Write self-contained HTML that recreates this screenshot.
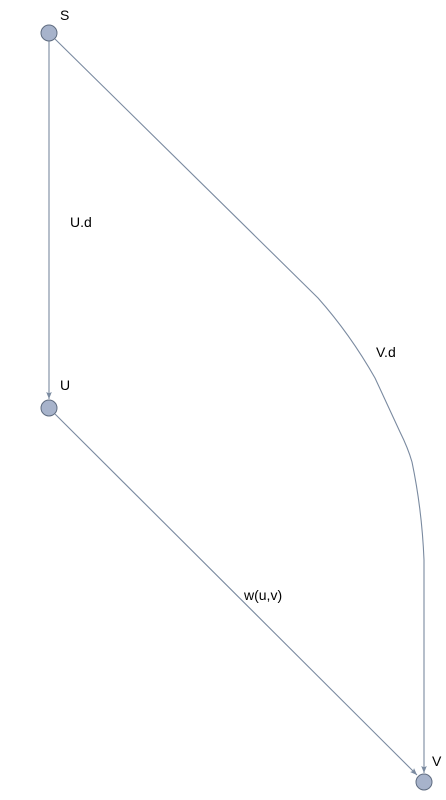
<!DOCTYPE html>
<html><head><meta charset="utf-8"><style>
html,body{margin:0;padding:0;background:#fff;width:446px;height:800px;overflow:hidden}
text{font-family:"Liberation Sans",Arial,sans-serif;font-size:14px;fill:#000}
</style></head><body>
<svg width="446" height="800" viewBox="0 0 446 800">
<defs>
<marker id="arr" viewBox="0 0 10 10" refX="10" refY="5" markerWidth="7" markerHeight="9" orient="auto" markerUnits="userSpaceOnUse">
<path d="M0,1 L10,5 L0,9 L2,5 Z" fill="#7a8aa0"/>
</marker>
</defs>
<g stroke="#7a8aa0" stroke-width="1.1" fill="none">
<path d="M49,41 L49,399" marker-end="url(#arr)"/>
<path d="M55,414 L417,775" marker-end="url(#arr)"/>
<path d="M55,39 L318,298 Q350,334 375,378 L400,432 Q408,448 412,462 Q422,510 424,560 L424,773" marker-end="url(#arr)"/>
</g>
<g fill="#a7b3cb" stroke="#5f6c80" stroke-width="1">
<circle cx="49" cy="33" r="8"/>
<circle cx="49" cy="408" r="8"/>
<circle cx="424" cy="782" r="8"/>
</g>
<text x="60" y="20">S</text>
<text x="60" y="390">U</text>
<text x="432" y="766">V</text>
<text x="70" y="227">U.d</text>
<text x="376" y="357">V.d</text>
<text x="244" y="600">w(u,v)</text>
</svg>
</body></html>
